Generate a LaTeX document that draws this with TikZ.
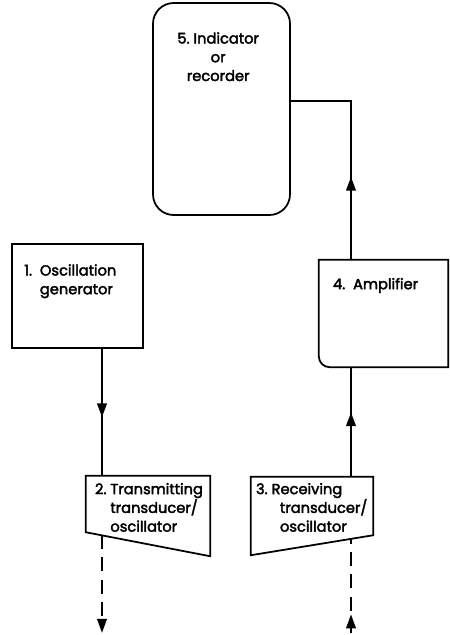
\documentclass[tikz,border=0pt]{standalone}
\usepackage{fontspec}
\newfontfamily\labelfont{Poppins}[FakeBold=2.5]
\usetikzlibrary{arrows.meta,decorations.markings}

\begin{document}
\begin{tikzpicture}[
    % Масштаб: единица = точка схемы, ось y направлена вниз
    x=0.03cm, y=-0.03cm,
    % Рамки блоков
    block/.style={draw, line width=1.5pt},
    hidden/.style={inner sep=0pt},
    % Подписи в блоках
    txt/.style={anchor=north west, inner sep=0pt, align=left, font=\labelfont\fontsize{12.5}{16}\selectfont},
    % Сигнальные линии
    conn/.style={line width=2.4pt},
    wave/.style={line width=2pt, dash pattern=on 12pt off 7pt},
    midarrow/.style={postaction={decorate}, decoration={markings,
        mark=at position #1 with {\arrow{Triangle[width=8pt,length=12pt]}}}}
]
    \useasboundingbox (0,0) rectangle (450,635);

    % 5. Индикатор
    \node[block, rounded corners=0.62cm, minimum width=4.11cm, minimum height=6.36cm] (ind) at (221.5,109) {};
    \node[txt, anchor=north, align=center] (ind-t) at ([shift={(-0.1cm,-0.9cm)}]ind.north) {5.\ Indicator\\or\\recorder};

    % 1. Генератор
    \node[block, minimum width=3.93cm, minimum height=3.12cm] (gen) at (77.5,296) {};
    \node[txt] (gen-t) at ([shift={(0.39cm,-0.63cm)}]gen.north west) {1.\ \ Oscillation\\\phantom{1.\ \ }generator};

    % 4. Усилитель (скруглён только левый нижний угол)
    \node[hidden, minimum width=3.87cm, minimum height=3.21cm] (amp) at (383.5,313.5) {};
    \draw[block] (amp.north east) -- (amp.north west) -- ([yshift=0.33cm]amp.south west)
        arc[start angle=180, end angle=270, radius=0.33cm] -- (amp.south east) -- cycle;
    \node[txt] (amp-t) at ([shift={(0.42cm,-0.54cm)}]amp.north west) {4.\ \ Amplifier};

    % 2. Излучатель
    \node[hidden, minimum width=3.72cm, minimum height=2.4cm] (tx) at (148,516) {};
    \draw[block] (tx.north west) -- (tx.north east) -- (tx.south east) -- ([yshift=0.72cm]tx.south west) -- cycle;
    \node[txt] (tx-t) at ([shift={(0.27cm,-0.21cm)}]tx.north west) {2.\ Transmitting\\\phantom{2.\ }transducer/\\\phantom{2.\ }oscillator};

    % 3. Приёмник
    \node[hidden, minimum width=3.66cm, minimum height=2.34cm] (rx) at (312,516) {};
    \draw[block] (rx.north west) -- (rx.north east) -- ([yshift=0.6cm]rx.south east) -- (rx.south west) -- cycle;
    \node[txt] (rx-t) at ([shift={(0.15cm,-0.18cm)}]rx.north west) {3.\ Receiving\\\hspace*{0.72cm}transducer/\\\hspace*{0.72cm}oscillator};

    % Линии связи
    \coordinate (lx) at (102,0);
    \coordinate (rl) at (351,0);
    \draw[conn, midarrow=0.54] (gen.south -| lx) -- (tx.north -| lx);
    \draw[conn, midarrow=0.59] (rx.north -| rl) -- (amp.south -| rl);
    \draw[conn, midarrow=0.38] (amp.north -| rl) |- ([yshift=0.24cm]ind.east);

    % Волна в среде
    \coordinate (tx-out) at (102,535);
    \coordinate (tx-end) at (102,633);
    \coordinate (rx-in) at (351,539);
    \coordinate (rx-start) at (351,633);
    \draw[wave, -{Triangle[width=8pt,length=12pt]}] (tx-out) -- (tx-end);
    \draw[wave, midarrow=0.2] (rx-start) -- (rx-in);

\end{tikzpicture}
\end{document}
